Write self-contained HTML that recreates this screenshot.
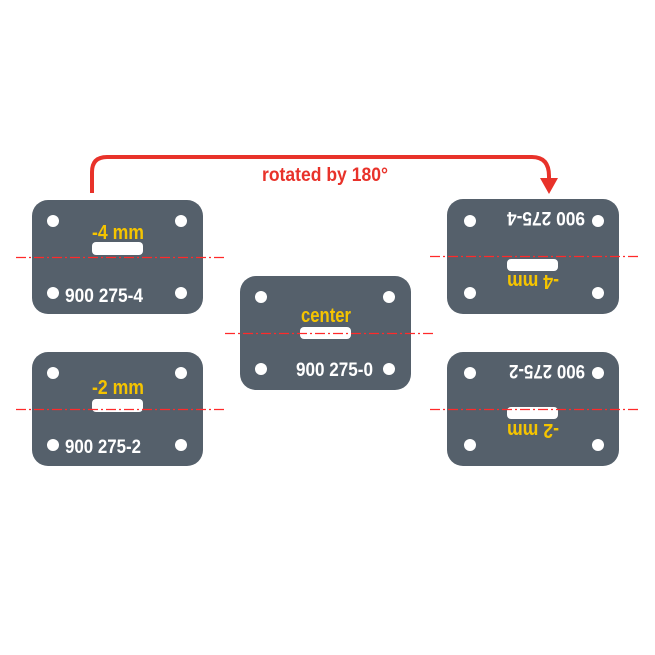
<!DOCTYPE html>
<html><head><style>html,body{margin:0;padding:0;background:#fff}svg{display:block}</style></head>
<body>
<svg width="655" height="655" viewBox="0 0 655 655" xmlns="http://www.w3.org/2000/svg" font-family="Liberation Sans, sans-serif" font-weight="bold">
<defs>
<g id="holes" fill="#fff">
<circle cx="21" cy="21" r="6"/><circle cx="149" cy="21" r="6"/>
<circle cx="21" cy="93" r="6"/><circle cx="149" cy="93" r="6"/>
</g>
</defs>
<!-- arrow -->
<path d="M92 193 V172 Q92 157 107 157 H532 Q549 157 549 176 V180" fill="none" stroke="#e8322a" stroke-width="4"/>
<polygon points="540,178 558,178 549,194" fill="#e8322a"/>
<text x="325" y="181" font-size="19" fill="#e8322a" text-anchor="middle" textLength="126" lengthAdjust="spacingAndGlyphs">rotated by 180°</text>

<!-- left 1 -->
<g transform="translate(32,200)">
<rect width="171" height="114" rx="16" fill="#55606b"/>
<use href="#holes"/>
<rect x="60" y="42" width="51" height="13" rx="4" fill="#fff"/>
<text x="86" y="39" font-size="20" fill="#f5c400" text-anchor="middle" textLength="52" lengthAdjust="spacingAndGlyphs">-4 mm</text>
<text x="33" y="102" font-size="19" fill="#fff" textLength="78" lengthAdjust="spacingAndGlyphs">900 275-4</text>
</g>
<!-- left 2 -->
<g transform="translate(32,352)">
<rect width="171" height="114" rx="16" fill="#55606b"/>
<use href="#holes"/>
<rect x="60" y="47" width="51" height="13" rx="4" fill="#fff"/>
<text x="86" y="42" font-size="20" fill="#f5c400" text-anchor="middle" textLength="52" lengthAdjust="spacingAndGlyphs">-2 mm</text>
<text x="33" y="101" font-size="19" fill="#fff" textLength="76" lengthAdjust="spacingAndGlyphs">900 275-2</text>
</g>
<!-- center -->
<g transform="translate(240,276)">
<rect width="171" height="114" rx="16" fill="#55606b"/>
<use href="#holes"/>
<rect x="60" y="51" width="51" height="12" rx="4" fill="#fff"/>
<text x="86" y="46" font-size="20" fill="#f5c400" text-anchor="middle" textLength="50" lengthAdjust="spacingAndGlyphs">center</text>
<text x="56" y="100" font-size="19" fill="#fff" textLength="77" lengthAdjust="spacingAndGlyphs">900 275-0</text>
</g>
<!-- right 1 (rotated) -->
<g transform="translate(619,314) rotate(180)">
<rect width="172" height="115" rx="16" fill="#55606b"/>
<use href="#holes"/>
<rect x="61" y="43" width="51" height="12" rx="4" fill="#fff"/>
<text x="86" y="39" font-size="20" fill="#f5c400" text-anchor="middle" textLength="52" lengthAdjust="spacingAndGlyphs">-4 mm</text>
<text x="34" y="102" font-size="19" fill="#fff" textLength="78" lengthAdjust="spacingAndGlyphs">900 275-4</text>
</g>
<!-- right 2 (rotated) -->
<g transform="translate(619,466) rotate(180)">
<rect width="172" height="114" rx="16" fill="#55606b"/>
<use href="#holes"/>
<rect x="61" y="47" width="51" height="12" rx="4" fill="#fff"/>
<text x="86" y="42" font-size="20" fill="#f5c400" text-anchor="middle" textLength="52" lengthAdjust="spacingAndGlyphs">-2 mm</text>
<text x="34" y="101" font-size="19" fill="#fff" textLength="76" lengthAdjust="spacingAndGlyphs">900 275-2</text>
</g>
<!-- center lines -->
<g stroke="#ff2a2a" stroke-width="1.3" stroke-dasharray="10,3,2,3" fill="none">
<line x1="16" y1="257.5" x2="224" y2="257.5"/>
<line x1="16" y1="409.5" x2="224" y2="409.5"/>
<line x1="225" y1="333.5" x2="433" y2="333.5"/>
<line x1="430" y1="256.5" x2="640" y2="256.5"/>
<line x1="430" y1="409.5" x2="640" y2="409.5"/>
</g>
</svg>
</body></html>
